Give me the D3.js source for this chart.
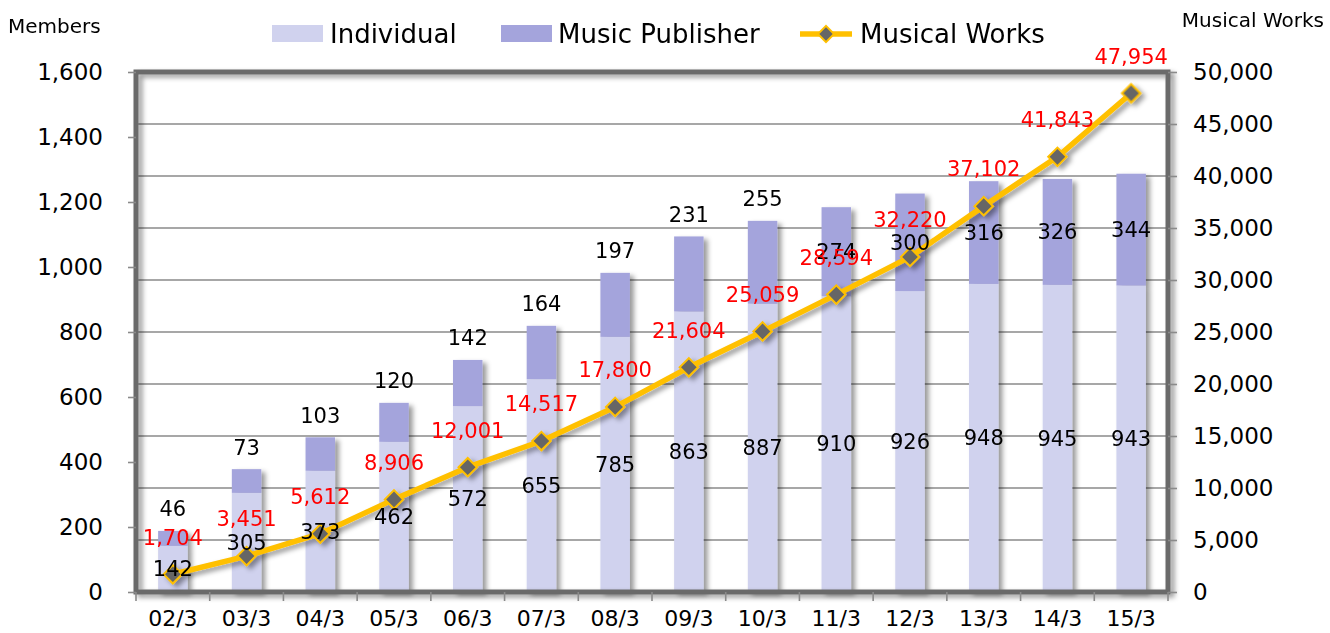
<!DOCTYPE html>
<html>
<head>
<meta charset="utf-8">
<script src="https://cdn.jsdelivr.net/npm/d3@7"></script>
<style>
  body { margin: 0; background: #fff; }
  text { font-family: "DejaVu Sans", Verdana, sans-serif; }
</style>
</head>
<body>
<script>
// data
var years = ["02/3", "03/3", "04/3", "05/3", "06/3", "07/3", "08/3", "09/3", "10/3", "11/3", "12/3", "13/3", "14/3", "15/3"];
var individual = [142, 305, 373, 462, 572, 655, 785, 863, 887, 910, 926, 948, 945, 943];
var publisher = [46, 73, 103, 120, 142, 164, 197, 231, 255, 274, 300, 316, 326, 344];
var works = [1704, 3451, 5612, 8906, 12001, 14517, 17800, 21604, 25059, 28594, 32220, 37102, 41843, 47954];
var leftTicks = [0, 200, 400, 600, 800, 1000, 1200, 1400, 1600];
var rightTicks = [0, 5000, 10000, 15000, 20000, 25000, 30000, 35000, 40000, 45000, 50000];

var W = 1330, H = 633;
var plot = { left: 136, right: 1168, top: 72, bottom: 592 };

var svg = d3.select("body").append("svg")
    .attr("width", W)
    .attr("height", H);

// drop shadow like the office chart
var defs = svg.append("defs");
var f = defs.append("filter").attr("id", "shadow")
    .attr("x", "-50%").attr("y", "-20%").attr("width", "200%").attr("height", "140%");
f.append("feDropShadow").attr("dx", 4).attr("dy", 3).attr("stdDeviation", 2.5)
    .attr("flood-color", "#000").attr("flood-opacity", 0.4);

var x = d3.scaleBand()
    .domain(years)
    .range([plot.left, plot.right])
    .paddingInner(0.6)
    .paddingOuter(0.3);

var yL = d3.scaleLinear().domain([0, 1600]).range([plot.bottom, plot.top]);
var yR = d3.scaleLinear().domain([0, 50000]).range([plot.bottom, plot.top]);
var fmt = d3.format(",");

// gridlines (follow the right axis)
svg.append("g")
    .selectAll("line")
    .data(rightTicks.slice(1, -1))
    .enter().append("line")
    .attr("x1", plot.left).attr("x2", plot.right)
    .attr("y1", function (d) { return yR(d); })
    .attr("y2", function (d) { return yR(d); })
    .attr("stroke", "#8a8a8a")
    .attr("stroke-width", 1.6);

// stacked bars
var stacked = years.map(function (y, i) {
    return { year: y, ind: individual[i], pub: publisher[i] };
});

var bars = svg.append("g").attr("filter", "url(#shadow)");
bars.selectAll("rect.ind")
    .data(stacked)
    .enter().append("rect")
    .attr("class", "ind")
    .attr("x", function (d) { return x(d.year); })
    .attr("width", x.bandwidth())
    .attr("y", function (d) { return yL(d.ind); })
    .attr("height", function (d) { return yL(0) - yL(d.ind); })
    .attr("fill", "#d0d2ee");
bars.selectAll("rect.pub")
    .data(stacked)
    .enter().append("rect")
    .attr("class", "pub")
    .attr("x", function (d) { return x(d.year); })
    .attr("width", x.bandwidth())
    .attr("y", function (d) { return yL(d.ind + d.pub); })
    .attr("height", function (d) { return yL(d.ind) - yL(d.ind + d.pub); })
    .attr("fill", "#a4a4dc");

// plot frame
svg.append("rect")
    .attr("x", plot.left).attr("y", plot.top)
    .attr("width", plot.right - plot.left)
    .attr("height", plot.bottom - plot.top)
    .attr("fill", "none")
    .attr("stroke", "#6b6b6b")
    .attr("stroke-width", 5)
    .attr("filter", "url(#shadow)");

// left axis
var axL = svg.append("g")
    .attr("transform", "translate(" + plot.left + ",0)")
    .call(d3.axisLeft(yL).tickValues(leftTicks).tickFormat(fmt).tickSize(8).tickPadding(25));
axL.select(".domain").remove();
axL.selectAll("line").attr("stroke", "#8a8a8a").attr("stroke-width", 1.6);
axL.selectAll("text").attr("font-size", 23).attr("fill", "#000")
    .attr("font-family", "DejaVu Sans, Verdana, sans-serif");

// right axis
var axR = svg.append("g")
    .attr("transform", "translate(" + plot.right + ",0)")
    .call(d3.axisRight(yR).tickValues(rightTicks).tickFormat(fmt).tickSize(9).tickPadding(16));
axR.select(".domain").remove();
axR.selectAll("line").attr("stroke", "#8a8a8a").attr("stroke-width", 1.6);
axR.selectAll("text").attr("font-size", 23).attr("fill", "#000")
    .attr("font-family", "DejaVu Sans, Verdana, sans-serif");

// bottom axis: labels at centres, ticks at category boundaries
var axB = svg.append("g")
    .attr("transform", "translate(0," + plot.bottom + ")")
    .call(d3.axisBottom(x).tickSize(0).tickPadding(18));
axB.select(".domain").remove();
axB.selectAll("text").attr("font-size", 22).attr("fill", "#000")
    .attr("font-family", "DejaVu Sans, Verdana, sans-serif");
var step = x.step();
var bounds = years.map(function (y) { return x(y) - step * 0.3; }).concat([plot.right]);
svg.append("g").selectAll("line")
    .data(bounds)
    .enter().append("line")
    .attr("x1", function (d) { return d; }).attr("x2", function (d) { return d; })
    .attr("y1", plot.bottom).attr("y2", plot.bottom + 9)
    .attr("stroke", "#8a8a8a").attr("stroke-width", 1.6);

// works line with markers
var cx = function (d, i) { return x(years[i]) + x.bandwidth() / 2; };
var lineG = svg.append("g").attr("filter", "url(#shadow)");
lineG.append("path")
    .datum(works)
    .attr("fill", "none")
    .attr("stroke", "#ffc000")
    .attr("stroke-width", 5.5)
    .attr("stroke-linejoin", "round")
    .attr("d", d3.line().x(cx).y(function (d) { return yR(d); }));
lineG.selectAll("path.mk")
    .data(works)
    .enter().append("path")
    .attr("class", "mk")
    .attr("d", d3.symbol().type(d3.symbolSquare).size(170))
    .attr("transform", function (d, i) { return "translate(" + cx(d, i) + "," + yR(d) + ") rotate(45)"; })
    .attr("fill", "#666")
    .attr("stroke", "#ffc000")
    .attr("stroke-width", 2);

// labels
var lab = svg.append("g").attr("font-size", 21).attr("text-anchor", "middle");
lab.selectAll("text.il")
    .data(stacked)
    .enter().append("text")
    .attr("x", function (d) { return x(d.year) + x.bandwidth() / 2; })
    .attr("y", function (d) { return (yL(0) + yL(d.ind)) / 2; })
    .attr("dy", "0.35em")
    .text(function (d) { return d.ind; });
lab.selectAll("text.pl")
    .data(stacked)
    .enter().append("text")
    .attr("x", function (d) { return x(d.year) + x.bandwidth() / 2; })
    .attr("y", function (d, i) {
        var top = yL(d.ind + d.pub);
        return i >= 9 ? (top + yL(d.ind)) / 2 : top - 22;
    })
    .attr("dy", "0.35em")
    .text(function (d) { return d.pub; });
lab.selectAll("text.wl")
    .data(works)
    .enter().append("text")
    .attr("x", cx)
    .attr("y", function (d) { return yR(d) - 37; })
    .attr("dy", "0.35em")
    .attr("fill", "#ff0000")
    .text(function (d) { return fmt(d); });

// axis titles
svg.append("text").attr("x", 8).attr("y", 26).attr("dy", "0.35em")
    .attr("font-size", 20).text("Members");
svg.append("text").attr("x", 1324).attr("y", 20).attr("dy", "0.35em")
    .attr("text-anchor", "end").attr("font-size", 20).text("Musical Works");

// legend
var leg = svg.append("g").attr("font-size", 26);
leg.append("rect").attr("x", 272).attr("y", 25).attr("width", 51).attr("height", 17).attr("fill", "#d0d2ee");
leg.append("text").attr("x", 330).attr("y", 34).attr("dy", "0.35em").text("Individual");
leg.append("rect").attr("x", 501).attr("y", 25).attr("width", 51).attr("height", 17).attr("fill", "#a4a4dc");
leg.append("text").attr("x", 558).attr("y", 34).attr("dy", "0.35em").text("Music Publisher");
leg.append("line").attr("x1", 800).attr("x2", 852).attr("y1", 34).attr("y2", 34)
    .attr("stroke", "#ffc000").attr("stroke-width", 5.5);
leg.append("path")
    .attr("d", d3.symbol().type(d3.symbolSquare).size(130))
    .attr("transform", "translate(826,34) rotate(45)")
    .attr("fill", "#666").attr("stroke", "#ffc000").attr("stroke-width", 2);
leg.append("text").attr("x", 860).attr("y", 34).attr("dy", "0.35em").text("Musical Works");
</script>
</body>
</html>
